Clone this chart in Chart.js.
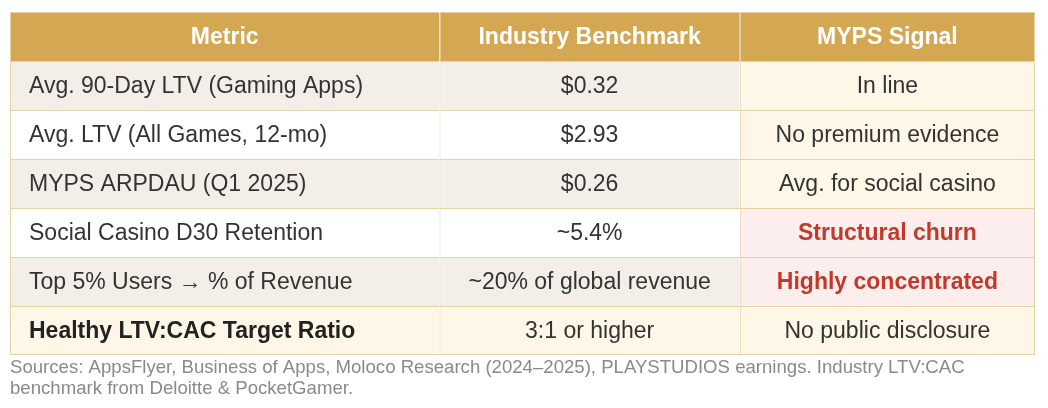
<!DOCTYPE html>
<html>
<head>
<meta charset="utf-8">
<script src="https://cdn.jsdelivr.net/npm/chart.js@4.4.1/dist/chart.umd.min.js"></script>
<style>
  html, body { margin: 0; padding: 0; background: #ffffff; }
  #wrap { width: 1048px; height: 408px; position: relative; }
</style>
</head>
<body>
<div id="wrap"><canvas id="tableChart"></canvas></div>
<script>
// Table content
const headers = ['Metric', 'Industry Benchmark', 'MYPS Signal'];
const metrics = [
  'Avg. 90-Day LTV (Gaming Apps)',
  'Avg. LTV (All Games, 12-mo)',
  'MYPS ARPDAU (Q1 2025)',
  'Social Casino D30 Retention',
  'Top 5% Users \u2192 % of Revenue',
  'Healthy LTV:CAC Target Ratio'
];
const benchmarks = ['$0.32', '$2.93', '$0.26', '~5.4%', '~20% of global revenue', '3:1 or higher'];
const signals = ['In line', 'No premium evidence', 'Avg. for social casino', 'Structural churn', 'Highly concentrated', 'No public disclosure'];
const alertRows = [false, false, false, true, true, false];
const highlightRows = [false, false, false, false, false, true];
const sources = [
  'Sources: AppsFlyer, Business of Apps, Moloco Research (2024\u20132025), PLAYSTUDIOS earnings. Industry LTV:CAC',
  'benchmark from Deloitte & PocketGamer.'
];

// Layout: column edges as fractions of the table width
const colEdges = [0, 0.419, 0.712, 1];
const FONT = '"Liberation Sans", Arial, Helvetica, sans-serif';

const rowLabels = ['header'].concat(metrics.map((m, i) => 'row' + i));
const columns = [metrics, benchmarks, signals];

function cellFill(r, c) {
  if (r === 0) return '#d4a853';
  const i = r - 1;
  if (highlightRows[i]) return '#fef6e7';
  if (c === 2) return alertRows[i] ? '#fdeeee' : '#fef6e7';
  return i % 2 === 0 ? '#f3efe8' : '#ffffff';
}

const cellText = {
  id: 'cellText',
  afterDatasetsDraw(chart) {
    const ctx = chart.ctx;
    ctx.save();
    ctx.textBaseline = 'middle';
    chart.data.datasets.forEach((ds, c) => {
      chart.getDatasetMeta(c).data.forEach((bar, r) => {
        const p = bar.getProps(['x', 'base', 'y'], true);
        const left = Math.min(p.x, p.base);
        const right = Math.max(p.x, p.base);
        let text, weight = 'normal', color = '#333333';
        if (r === 0) {
          text = headers[c];
          weight = 'bold';
          color = '#ffffff';
        } else {
          const i = r - 1;
          text = columns[c][i];
          if (c === 0 && highlightRows[i]) { weight = 'bold'; color = '#222222'; }
          if (c === 2 && alertRows[i]) { weight = 'bold'; color = '#c0392b'; }
        }
        ctx.font = weight + ' 23px ' + FONT;
        ctx.fillStyle = color;
        if (c === 0 && r > 0) {
          ctx.textAlign = 'left';
          ctx.fillText(text, left + 19, p.y + 1);
        } else {
          ctx.textAlign = 'center';
          ctx.fillText(text, (left + right) / 2, p.y + 1);
        }
      });
    });
    ctx.restore();
  }
};

new Chart(document.getElementById('tableChart').getContext('2d'), {
  type: 'bar',
  data: {
    labels: rowLabels,
    datasets: headers.map((h, c) => ({
      label: h,
      data: rowLabels.map(() => [colEdges[c], colEdges[c + 1]]),
      backgroundColor: ctx => cellFill(ctx.dataIndex, c),
      borderColor: '#e4d3a7',
      borderWidth: ctx => ({
        top: 1,
        left: 1,
        right: c === 2 ? 1 : 0,
        bottom: ctx.dataIndex === rowLabels.length - 1 ? 1 : 0
      }),
      borderSkipped: false,
      inflateAmount: 0,
      barPercentage: 1,
      categoryPercentage: 1,
      grouped: false
    }))
  },
  options: {
    indexAxis: 'y',
    responsive: true,
    maintainAspectRatio: false,
    animation: false,
    layout: { padding: { left: 10, right: 13, top: 12, bottom: 5 } },
    scales: {
      x: { type: 'linear', min: 0, max: 1, display: false },
      y: { type: 'category', display: false }
    },
    plugins: {
      legend: { display: false },
      tooltip: { enabled: false },
      title: {
        display: true,
        position: 'bottom',
        align: 'start',
        text: sources,
        color: '#8a8a8a',
        font: { family: FONT, size: 18.6, weight: 'normal', lineHeight: 1.15 },
        padding: { top: 2, bottom: 3.2 }
      }
    }
  },
  plugins: [cellText]
});
</script>
</body>
</html>
